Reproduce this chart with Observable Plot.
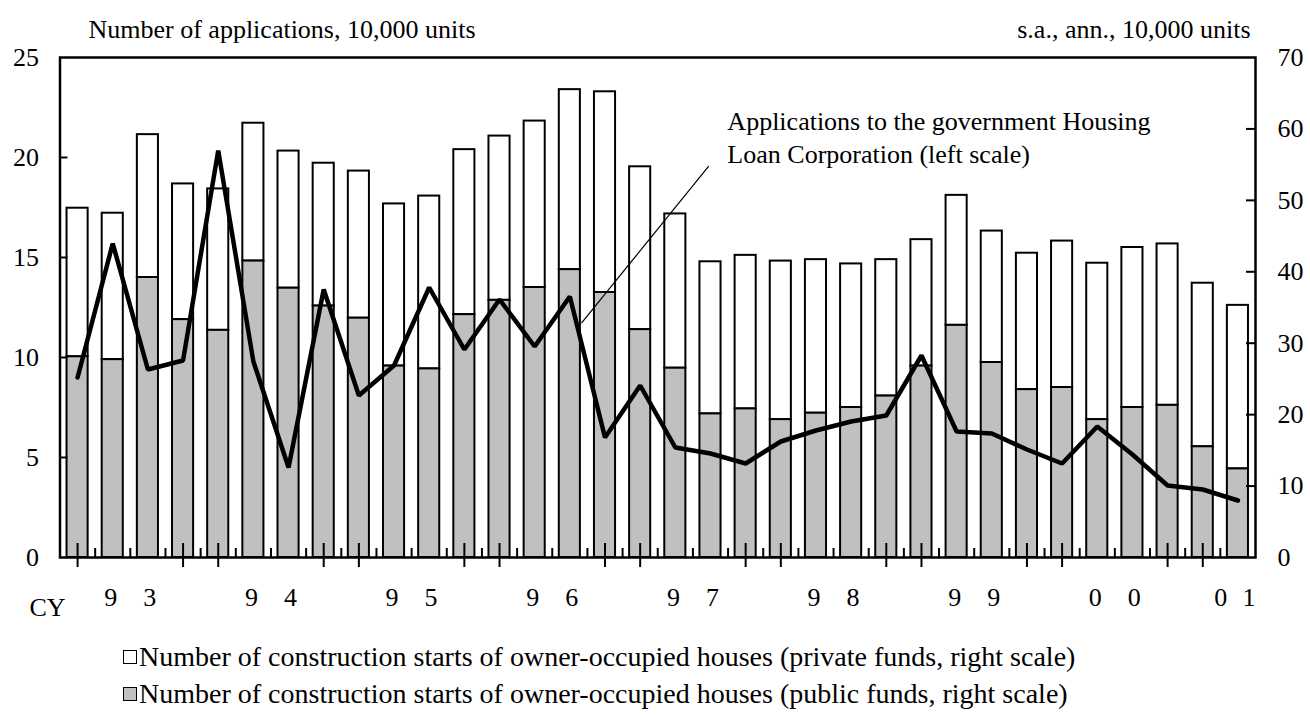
<!DOCTYPE html>
<html>
<head>
<meta charset="utf-8">
<script src="https://cdn.jsdelivr.net/npm/d3@7"></script>
<script src="https://cdn.jsdelivr.net/npm/@observablehq/plot@0.6"></script>
<style>
  html, body { margin: 0; padding: 0; background: #fff; overflow: hidden; }
  body { width: 1310px; height: 715px; font-family: "Liberation Serif", "Times New Roman", serif; }
  #chart svg { display: block; }
  #legend { padding-left: 123px; padding-top: 13px; font-size: 28px; color: #000; }
  .row { height: 37px; display: flex; align-items: center; white-space: nowrap; }
  .sw { width: 12px; height: 12px; border: 1.5px solid #000; margin-right: 2px; box-sizing: content-box; }
</style>
</head>
<body>
<div id="chart"></div>
<div id="legend"></div>
<script>
// ---- data ----
const quarters = ["93Q1","93Q2","93Q3","93Q4","94Q1","94Q2","94Q3","94Q4",
  "95Q1","95Q2","95Q3","95Q4","96Q1","96Q2","96Q3","96Q4",
  "97Q1","97Q2","97Q3","97Q4","98Q1","98Q2","98Q3","98Q4",
  "99Q1","99Q2","99Q3","99Q4","00Q1","00Q2","00Q3","00Q4","01Q1","01Q2"];
// construction starts of owner-occupied houses, public funds (right scale, 10,000 units)
const publicFunds = [28.1, 27.7, 39.2, 33.3, 31.8, 41.5, 37.7, 35.2, 33.5, 26.8, 26.4, 34.0,
  36.0, 37.8, 40.3, 37.1, 31.9, 26.5, 20.1, 20.8, 19.3, 20.2, 21.0, 22.6,
  26.8, 32.5, 27.3, 23.5, 23.8, 19.3, 21.0, 21.3, 15.5, 12.4];
// construction starts of owner-occupied houses, private funds (right scale, 10,000 units)
const privateFunds = [20.8, 20.5, 20.0, 19.0, 19.8, 19.3, 19.2, 20.0, 20.6, 22.7, 24.2, 23.1,
  23.0, 23.3, 25.2, 28.1, 22.8, 21.6, 21.3, 21.5, 22.2, 21.5, 20.1, 19.1,
  17.7, 18.2, 18.4, 19.1, 20.5, 21.9, 22.4, 22.6, 22.9, 22.9];
// applications to the Government Housing Loan Corporation (left scale, 10,000 units)
const applications = [9.0, 15.7, 9.4, 9.85, 20.35, 9.8, 4.5, 13.4, 8.1, 9.6, 13.5, 10.4,
  12.9, 10.55, 13.05, 6.0, 8.6, 5.5, 5.2, 4.7, 5.8, 6.35, 6.8, 7.1,
  10.1, 6.3, 6.2, 5.4, 4.7, 6.55, 5.15, 3.6, 3.4, 2.85];
const yearKeys = ["93","94","95","96","97","98","99","00","01"];
const yearLabels = ["9\u20033","9\u20034","9\u20035","9\u20036","9\u20037","9\u20038","9\u20039","0\u20030","0\u2002\u200A1"];
const leftTicks = [0, 5, 10, 15, 20, 25];
const rightTicks = [0, 10, 20, 30, 40, 50, 60, 70];
const leftMax = 25, rightMax = 70;
const titleLeft = "Number of applications, 10,000 units";
const titleRight = "s.a., ann., 10,000 units";
const annotationText = "Applications to the government Housing\nLoan Corporation (left scale)";
const legendItems = [
  {label: "Number of construction starts of owner-occupied houses (private funds, right scale)", fill: "#ffffff"},
  {label: "Number of construction starts of owner-occupied houses (public funds, right scale)", fill: "#c0c0c0"}
];

// ---- build tables ----
const rows = quarters.map((q, i) => ({i, q, pub: publicFunds[i], priv: privateFunds[i], app: applications[i]}));
const toRight = v => v * rightMax / leftMax;
const n = quarters.length;
const years = yearKeys.map((k, j) => {
  const idx = rows.filter(r => r.q.startsWith(k)).map(r => r.i);
  return {label: yearLabels[j], first: d3.min(idx), last: d3.max(idx), full: idx.length === 4};
});
const longTicks = rows.filter(r => r.q.endsWith("Q1") || r.q.endsWith("Q4")).map(r => r.i);
const shortTicks = d3.range(n - 1).map(i => i + 0.5);
const bw = 0.3;

const chart = Plot.plot({
  width: 1310,
  height: 625,
  marginTop: 57,
  marginBottom: 68,
  marginLeft: 59.5,
  marginRight: 55,
  style: {fontFamily: "Liberation Serif, Times New Roman, serif", fontSize: "26px", color: "#000", background: "#fff"},
  x: {domain: [-0.5, n - 0.5], axis: null},
  y: {domain: [0, rightMax]},
  marks: [
    // stacked bars: public (grey) at bottom, private (white) above
    Plot.rect(rows, {x1: d => d.i - bw, x2: d => d.i + bw, y1: d => d.pub, y2: d => d.pub + d.priv,
      fill: "#ffffff", stroke: "#000", strokeWidth: 2}),
    Plot.rect(rows, {x1: d => d.i - bw, x2: d => d.i + bw, y1: 0, y2: d => d.pub,
      fill: "#c0c0c0", stroke: "#000", strokeWidth: 2}),
    // bottom ticks
    Plot.ruleX(shortTicks, {x: d => d, y1: 0, y2: 0, insetTop: -9, insetBottom: 0, stroke: "#000", strokeWidth: 2}),
    Plot.ruleX(longTicks, {x: d => d, y1: 0, y2: 0, insetTop: -14, insetBottom: -10, stroke: "#000", strokeWidth: 2}),
    // inward y ticks
    Plot.ruleY(leftTicks.slice(1, -1), {y: d => toRight(d), x1: -0.5, x2: -0.5, insetLeft: 0, insetRight: -8, stroke: "#000", strokeWidth: 2}),
    Plot.ruleY(rightTicks.slice(1, -1), {y: d => d, x1: n - 0.5, x2: n - 0.5, insetLeft: -9, insetRight: 0, stroke: "#000", strokeWidth: 2}),
    // axes labels
    Plot.axisY({anchor: "left", ticks: leftTicks.map(toRight), tickFormat: d => String(Math.round(d * leftMax / rightMax)),
      tickSize: 0, tickPadding: 21, label: null, fontSize: 26}),
    Plot.axisY({anchor: "right", ticks: rightTicks, tickFormat: d => String(d),
      tickSize: 0, tickPadding: 22, label: null, fontSize: 26}),
    // line
    Plot.line(rows, {x: "i", y: d => toRight(d.app), stroke: "#000", strokeWidth: 4.5, strokeLinejoin: "miter"}),
    // frame
    Plot.frame({stroke: "#000", strokeWidth: 2.5}),
    // year labels
    Plot.text(years.filter(d => d.full), {x: d => (d.first + d.last) / 2, text: "label", frameAnchor: "bottom", lineAnchor: "middle", dy: 40, fontSize: 26}),
    Plot.text(years.filter(d => !d.full), {x: d => d.last, text: "label", frameAnchor: "bottom", lineAnchor: "middle", dy: 40, dx: -3, fontSize: 26}),
    Plot.text(["CY"], {frameAnchor: "bottom-left", lineAnchor: "middle", dx: -12.5, dy: 50, textAnchor: "middle", fontSize: 26}),
    // titles over axes
    Plot.text([titleLeft], {frameAnchor: "top-left", lineAnchor: "middle", dx: 28.5, dy: -28, textAnchor: "start", fontSize: 26}),
    Plot.text([titleRight], {frameAnchor: "top-right", lineAnchor: "middle", dx: -5, dy: -28, textAnchor: "end", fontSize: 26}),
    // annotation
    Plot.link([0], {x1: 14.33, y1: 32.8, x2: 17.95, y2: 54.8, stroke: "#000", strokeWidth: 1.2}),
    Plot.text([annotationText], {x: 18.48, y: 59.0, textAnchor: "start", lineAnchor: "middle", lineHeight: 1.27, fontSize: 26})
  ]
});
document.getElementById("chart").appendChild(chart);

const legend = document.getElementById("legend");
for (const item of legendItems) {
  const row = document.createElement("div");
  row.className = "row";
  const sw = document.createElement("span");
  sw.className = "sw";
  sw.style.background = item.fill;
  const t = document.createElement("span");
  t.textContent = item.label;
  row.appendChild(sw);
  row.appendChild(t);
  legend.appendChild(row);
}
</script>
</body>
</html>
